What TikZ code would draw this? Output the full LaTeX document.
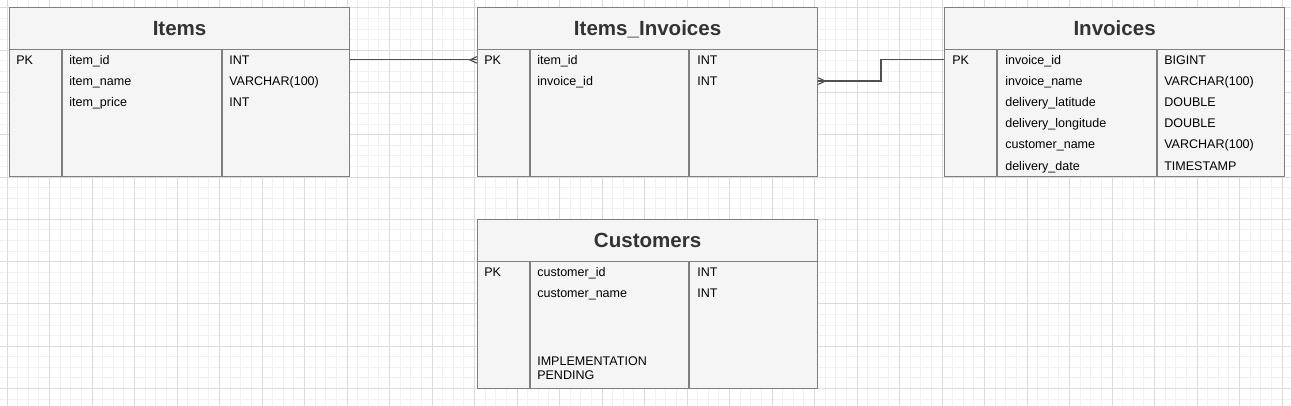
\documentclass[tikz,border=0pt]{standalone}
\usepackage{fontspec}
\setmainfont{Liberation Sans}
\usepackage{xcolor}
\usepackage{tikz}
\usetikzlibrary{positioning}
\definecolor{erFill}{HTML}{F5F5F5}
\definecolor{erLine}{HTML}{7F7F7F}
\definecolor{erTitle}{HTML}{333333}
\definecolor{erLink}{HTML}{505050}
\definecolor{gridMinor}{HTML}{F1F1F1}
\definecolor{gridMajor}{HTML}{DCDCDC}
\tikzset{
  tblhead/.style={draw=erLine, fill=erFill, line width=0.9pt, anchor=north west,
    minimum width=255pt, minimum height=31.5pt, inner sep=0pt,
    text height=11pt, text depth=0pt, text=erTitle,
    font=\fontsize{15.4}{18}\selectfont\bfseries},
  tblbody/.style={draw=erLine, fill=erFill, line width=0.9pt, anchor=north west,
    minimum width=255pt, minimum height=95.25pt, inner sep=0pt},
  colline/.style={draw=erLine, line width=0.9pt},
  fld/.style={anchor=base west, inner sep=0pt, font=\fontsize{9.4}{10}\selectfont},
  rel/.style={draw=erLink, line width=0.9pt}
}

\begin{document}
\begin{tikzpicture}[x=0.75pt, y=-0.75pt]
\useasboundingbox (0,0) rectangle (1291,406);
% background grid
\foreach \i in {0,...,120}
  \draw[gridMinor, line width=0.75pt] ({7+\i*10.625},0) -- ({7+\i*10.625},406);
\foreach \j in {0,...,37}
  \draw[gridMinor, line width=0.75pt] (0,{8+\j*10.5675}) -- (1291,{8+\j*10.5675});
\foreach \i in {0,...,30}
  \draw[gridMajor, line width=0.75pt] ({7+\i*42.5},0) -- ({7+\i*42.5},406);
\foreach \j in {0,...,9}
  \draw[gridMajor, line width=0.75pt] (0,{8+\j*42.27}) -- (1291,{8+\j*42.27});

\begin{scope}
  \node[tblhead] (items-head) at (9,7) {Items};
  \node[tblbody] (items-body) at (9,49) {};
  \draw[colline] (62,49) -- (62,176);
  \draw[colline] (222,49) -- (222,176);
  \node[fld] (items-pk) at (16,64.2) {PK};
  \node[fld] (items-n1) at (69,64.2) {item\_id};
  \node[fld] (items-n2) at (69,85.4) {item\_name};
  \node[fld] (items-n3) at (69,106.6) {item\_price};
  \node[fld] (items-t1) at (229,64.2) {INT};
  \node[fld] (items-t2) at (229,85.4) {VARCHAR(100)};
  \node[fld] (items-t3) at (229,106.6) {INT};
\end{scope}

\begin{scope}[shift={(468,0)}]
  \node[tblhead] (itin-head) at (9,7) {Items\_Invoices};
  \node[tblbody] (itin-body) at (9,49) {};
  \draw[colline] (62,49) -- (62,176);
  \draw[colline] (221,49) -- (221,176);
  \node[fld] (itin-pk) at (16,64.2) {PK};
  \node[fld] (itin-n1) at (69,64.2) {item\_id};
  \node[fld] (itin-n2) at (69,85.4) {invoice\_id};
  \node[fld] (itin-t1) at (229,64.2) {INT};
  \node[fld] (itin-t2) at (229,85.4) {INT};
\end{scope}

\begin{scope}[shift={(935,0)}]
  \node[tblhead] (inv-head) at (9,7) {Invoices};
  \node[tblbody] (inv-body) at (9,49) {};
  \draw[colline] (62,49) -- (62,176);
  \draw[colline] (222,49) -- (222,176);
  \node[fld] (inv-pk) at (17,64.2) {PK};
  \node[fld] (inv-n1) at (70,64.2) {invoice\_id};
  \node[fld] (inv-n2) at (70,85.4) {invoice\_name};
  \node[fld] (inv-n3) at (70,106.6) {delivery\_latitude};
  \node[fld] (inv-n4) at (70,127.8) {delivery\_longitude};
  \node[fld] (inv-n5) at (70,149) {customer\_name};
  \node[fld] (inv-n6) at (70,170.2) {delivery\_date};
  \node[fld] (inv-t1) at (229,64.2) {BIGINT};
  \node[fld] (inv-t2) at (229,85.4) {VARCHAR(100)};
  \node[fld] (inv-t3) at (229,106.6) {DOUBLE};
  \node[fld] (inv-t4) at (229,127.8) {DOUBLE};
  \node[fld] (inv-t5) at (229,149) {VARCHAR(100)};
  \node[fld] (inv-t6) at (229,170.2) {TIMESTAMP};
\end{scope}

\begin{scope}[shift={(468,212)}]
  \node[tblhead] (cust-head) at (9,7) {Customers};
  \node[tblbody] (cust-body) at (9,49) {};
  \draw[colline] (62,49) -- (62,177);
  \draw[colline] (221,49) -- (221,177);
  \node[fld] (cust-pk) at (16,64.5) {PK};
  \node[fld] (cust-n1) at (69,64.5) {customer\_id};
  \node[fld] (cust-n2) at (69,85.7) {customer\_name};
  \node[fld] (cust-n3) at (69,153.7) {IMPLEMENTATION};
  \node[fld] (cust-n4) at (69,167) {PENDING};
  \node[fld] (cust-t1) at (229,64.5) {INT};
  \node[fld] (cust-t2) at (229,85.7) {INT};
\end{scope}

% relations
\coordinate (m1) at (itin-body.west |- itin-pk);
\coordinate (m2) at (itin-body.east |- itin-t2);
\draw[rel] (items-body.east |- items-pk) -- (m1);
\draw[rel] (m1) ++(0,-3.3) -- ++(-7,3.3) -- ++(7,3.3);
\draw[rel] (inv-body.west |- inv-pk) -- ++(-63,0) |- (m2);
\draw[rel] (m2) ++(0,-3.3) -- ++(7,3.3) -- ++(-7,3.3);
\end{tikzpicture}
\end{document}
